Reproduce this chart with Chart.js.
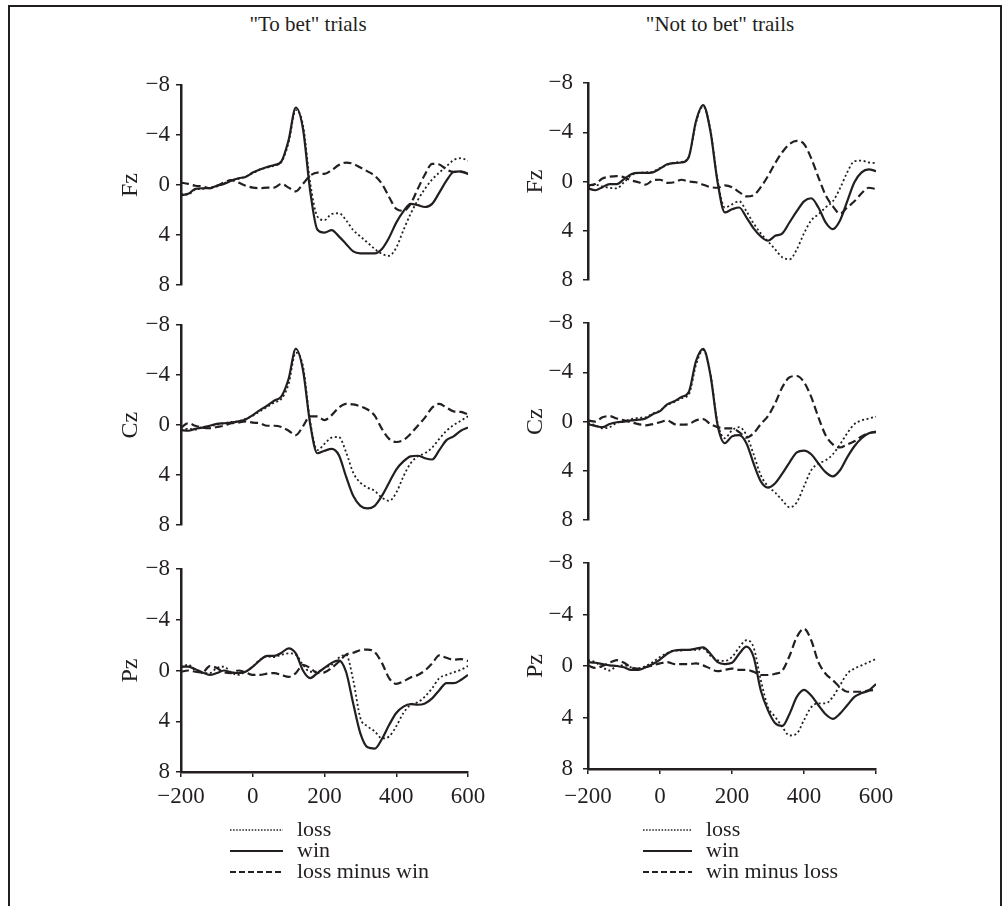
<!DOCTYPE html>
<html><head><meta charset="utf-8">
<script src="https://cdn.jsdelivr.net/npm/chart.js@4.4.1/dist/chart.umd.min.js"></script>
<style>
html,body{margin:0;padding:0;background:#fff;}
#page{position:relative;width:1003px;height:906px;overflow:hidden;background:#fff;font-family:'Liberation Serif','Times New Roman',serif;color:#231f20;}
#frame{position:absolute;left:8px;top:5px;width:990px;height:960px;border:2px solid #231f20;border-bottom:none;}
.title{position:absolute;top:12px;font-size:21px;line-height:24px;white-space:nowrap;transform:translateX(-50%);}
canvas{position:absolute;}
.leg{position:absolute;font-size:22px;line-height:22px;height:22px;white-space:nowrap;}
.leg svg{position:absolute;top:0;}
.leg span{position:absolute;top:0;}
</style></head>
<body>
<div id="page">
  <div id="frame"></div>
  <div class="title" style="left:308px">"To bet" trials</div>
  <div class="title" style="left:720px">"Not to bet" trails</div>
  <canvas id="fzL" width="400" height="245" style="left:100px;top:60px"></canvas>
  <canvas id="czL" width="400" height="245" style="left:100px;top:300px"></canvas>
  <canvas id="pzL" width="400" height="273" style="left:100px;top:544px"></canvas>
  <canvas id="fzR" width="401" height="246" style="left:507px;top:58px"></canvas>
  <canvas id="czR" width="401" height="246" style="left:507px;top:298px"></canvas>
  <canvas id="pzR" width="401" height="276" style="left:507px;top:538px"></canvas>
  <div id="legL"></div>
  <div id="legR"></div>
</div>
<script>
// ---------- data ----------
const timesMs = [-200,-180,-160,-140,-120,-100,-80,-60,-40,-20,0,20,40,60,80,100,120,140,160,180,200,220,240,260,280,300,320,340,360,380,400,420,440,460,480,500,520,540,560,580,600];
const xTickValues = [-200,0,200,400,600];
const yTickValues = [-8,-4,0,4,8];
const columnTitles = ['"To bet" trials', '"Not to bet" trails'];
const siteLabels = ['Fz','Cz','Pz'];
const legendLeft = ['loss','win','loss minus win'];
const legendRight = ['loss','win','win minus loss'];

// "To bet" trials
const fzBetLoss = [0.7,0.75,0.35,0.3,0.2,0.1,-0.15,-0.4,-0.5,-0.7,-0.95,-1.25,-1.4,-1.55,-1.85,-3.4,-6.0,-4.8,-0.2,2.5,2.8,2.3,2.25,2.8,3.6,4.1,4.6,5.1,5.5,5.65,5.0,3.6,2.3,1.2,0.3,-0.45,-1.0,-1.5,-2.0,-2.15,-1.95];
const fzBetWin  = [0.8,0.7,0.3,0.25,0.25,0.05,-0.1,-0.35,-0.55,-0.65,-1.0,-1.25,-1.45,-1.6,-1.9,-3.6,-6.2,-4.5,0.45,3.55,3.8,3.6,4.1,4.7,5.3,5.45,5.45,5.45,5.1,4.2,3.0,2.1,1.5,1.6,1.75,1.5,0.6,-0.35,-1.05,-1.1,-0.9];
const fzBetDiff = [-0.2,-0.1,0.05,0.1,0.25,0.05,-0.2,-0.4,-0.2,0.05,0.2,0.25,0.2,0.2,-0.1,0.2,0.5,-0.1,-0.75,-1.0,-0.9,-1.2,-1.6,-1.8,-1.7,-1.4,-1.1,-0.75,-0.1,0.95,1.9,2.05,1.5,0.3,-0.85,-1.7,-1.65,-1.25,-1.05,-1.05,-0.9];

const czBetLoss = [0.35,0.3,0.35,0.15,0.1,-0.05,-0.15,-0.25,-0.3,-0.5,-0.75,-1.1,-1.45,-1.8,-2.1,-3.3,-5.8,-4.7,-0.3,2.0,1.5,1.0,0.95,2.15,3.8,4.6,5.0,5.25,5.8,6.05,5.4,4.1,3.05,2.5,2.25,1.8,1.1,0.45,0.0,-0.35,-0.7];
const czBetWin  = [0.4,0.45,0.3,0.2,0.05,-0.1,-0.15,-0.2,-0.3,-0.45,-0.8,-1.2,-1.55,-1.95,-2.3,-3.7,-6.1,-4.4,-0.1,2.25,2.05,1.9,2.4,4.1,5.65,6.45,6.65,6.45,5.65,4.6,3.55,2.9,2.5,2.45,2.65,2.75,2.0,1.2,0.9,0.45,0.2];
const czBetDiff = [0.2,-0.15,0.05,0.2,0.25,0.15,0.05,-0.15,-0.2,-0.3,-0.2,-0.15,0.05,0.05,0.15,0.45,0.8,0.1,-0.7,-0.7,-0.4,-0.8,-1.4,-1.7,-1.65,-1.5,-1.25,-0.75,0.3,1.1,1.35,1.2,0.7,0.05,-0.6,-1.4,-1.7,-1.4,-1.1,-1.05,-0.85];

const pzBetLoss = [-0.2,-0.45,0.0,0.2,0.2,-0.2,-0.3,0.15,0.35,0.1,-0.3,-0.85,-1.1,-1.05,-1.25,-1.35,-1.25,-0.45,0.1,0.1,-0.2,-0.45,-1.0,-1.25,0.75,3.75,4.4,4.8,5.35,5.2,4.4,3.35,2.7,2.5,2.05,1.4,0.6,0.35,0.15,-0.05,-0.35];
const pzBetWin  = [-0.3,-0.3,-0.1,0.15,0.35,0.2,0.0,0.15,0.2,0.1,-0.3,-0.8,-1.15,-1.15,-1.4,-1.75,-1.35,0.0,0.6,0.2,-0.2,-0.6,-0.8,0.1,2.6,4.95,6.05,6.15,5.4,4.3,3.35,2.85,2.65,2.7,2.6,2.2,1.55,1.0,1.0,0.75,0.35];
const pzBetDiff = [0.1,0.0,0.1,0.15,-0.35,-0.2,0.15,0.2,0.0,0.15,0.35,0.35,0.25,0.2,0.35,0.5,0.2,-0.45,-0.2,0.2,0.15,-0.2,-0.7,-1.25,-1.4,-1.6,-1.65,-1.45,-0.6,0.6,1.05,0.85,0.55,0.35,0.0,-0.55,-1.2,-1.0,-0.85,-0.9,-0.75];

// "Not to bet" trials
const fzNoLoss = [0.45,0.25,0.4,0.5,0.55,0.05,-0.5,-0.7,-0.75,-0.8,-1.1,-1.35,-1.55,-1.6,-2.0,-4.8,-6.1,-4.2,-0.1,2.1,1.85,1.6,2.4,3.4,4.2,4.85,5.5,6.15,6.3,5.5,4.2,3.15,2.65,2.1,1.6,0.55,-0.75,-1.65,-1.7,-1.55,-1.5];
const fzNoWin  = [0.55,0.7,0.45,0.2,0.2,-0.2,-0.6,-0.7,-0.7,-0.75,-1.05,-1.4,-1.5,-1.55,-2.0,-4.9,-6.2,-4.1,0.05,2.5,2.25,2.1,2.9,3.8,4.45,4.8,4.4,4.2,3.3,2.4,1.6,1.35,2.1,3.3,3.85,3.15,1.6,0.05,-0.75,-1.0,-0.85];
const fzNoDiff = [0.3,0.2,-0.25,-0.4,-0.45,-0.35,-0.1,0.05,0.25,-0.1,-0.15,0.1,0.05,-0.15,0.0,0.05,0.25,0.45,0.5,0.3,0.45,0.85,1.2,1.1,0.45,-0.45,-1.5,-2.4,-3.05,-3.3,-3.05,-1.9,-0.35,1.1,2.0,2.6,2.1,1.6,0.95,0.5,0.6];

const czNoLoss = [0.1,0.3,0.55,0.45,0.1,-0.05,-0.2,-0.3,-0.35,-0.65,-0.9,-1.35,-1.6,-1.9,-2.2,-4.6,-5.8,-3.9,0.1,1.35,0.7,0.45,1.1,2.65,4.35,5.25,5.75,6.4,6.95,6.55,5.25,3.95,3.4,3.15,2.65,1.85,0.95,0.2,-0.1,-0.25,-0.4];
const czNoWin  = [0.2,0.35,0.45,0.2,0.05,0.0,-0.1,-0.15,-0.25,-0.6,-0.85,-1.4,-1.65,-2.0,-2.4,-4.9,-5.9,-3.8,0.3,1.75,1.2,1.1,1.75,3.4,4.85,5.35,5.0,4.2,3.3,2.5,2.35,2.65,3.4,4.1,4.45,3.95,2.9,2.0,1.35,0.95,0.8];
const czNoDiff = [-0.1,0.0,-0.35,-0.45,-0.25,-0.1,0.05,0.2,0.3,0.2,0.05,-0.1,0.2,0.25,0.2,-0.1,-0.2,0.2,0.45,0.55,0.55,0.85,1.3,0.95,0.2,-0.45,-1.5,-2.8,-3.6,-3.7,-3.2,-2.0,-0.35,1.1,1.85,2.1,1.85,1.6,1.2,0.95,0.85];

const pzNoLoss = [-0.45,-0.3,0.1,0.35,0.0,-0.05,0.1,0.2,0.0,-0.3,-0.7,-1.0,-1.2,-1.2,-1.25,-1.25,-1.35,-0.8,-0.45,-0.4,-0.7,-1.45,-2.0,-1.45,1.1,3.2,3.95,4.75,5.4,5.25,4.2,3.2,2.9,2.9,2.4,1.5,0.6,0.2,-0.05,-0.3,-0.55];
const pzNoWin  = [-0.3,-0.25,-0.15,-0.05,0.0,0.1,0.3,0.3,0.1,-0.15,-0.5,-0.95,-1.2,-1.25,-1.25,-1.35,-1.45,-0.95,-0.3,-0.15,-0.25,-0.95,-1.5,-0.7,1.9,3.45,4.45,4.65,3.7,2.4,1.85,2.3,3.05,3.75,4.1,3.7,3.05,2.4,2.1,1.9,1.4];
const pzNoDiff = [-0.05,0.15,0.0,-0.25,-0.45,-0.25,0.1,0.2,0.1,-0.05,-0.2,-0.3,-0.15,-0.15,-0.15,-0.2,-0.05,0.2,0.4,0.3,0.2,0.3,0.3,0.45,0.7,0.7,0.6,0.35,-0.8,-2.25,-2.9,-2.0,-0.3,0.6,1.1,1.65,2.0,2.0,2.0,1.9,1.85];

// ---------- drawing ----------
const INK = '#231f20';
const FONT = "'Liberation Serif', 'Times New Roman', serif";
const fmt = v => (v < 0 ? '\u2212' + Math.abs(v) : String(v));
const pts = arr => timesMs.map((t, i) => ({x: t, y: arr[i]}));

function panel(id, label, loss, win, diff, showX, opt) {
  new Chart(document.getElementById(id), {
    type: 'line',
    data: {datasets: [
      {label: 'loss', data: pts(loss), borderColor: INK, borderWidth: 1.8, borderDash: [2, 2.6]},
      {label: 'win', data: pts(win), borderColor: INK, borderWidth: 2.2},
      {label: 'diff', data: pts(diff), borderColor: INK, borderWidth: 2.2, borderDash: [8, 4]}
    ]},
    options: {
      responsive: false, animation: false, devicePixelRatio: 1,
      layout: {padding: {left: 0, right: 32, top: 25, bottom: showX ? 0 : 15}},
      elements: {point: {radius: 0}, line: {cubicInterpolationMode: 'monotone', fill: false}},
      plugins: {legend: {display: false}, tooltip: {enabled: false}},
      scales: {
        x: {
          type: 'linear', min: -200, max: 600, display: showX,
          afterBuildTicks: s => { s.ticks = xTickValues.map(v => ({value: v})); },
          afterFit: s => { s.height = showX ? 45 : 0; },
          grid: {drawOnChartArea: false, drawTicks: true, tickLength: 5, color: INK, lineWidth: 1.5},
          border: {display: true, color: INK, width: 2.5},
          ticks: {color: INK, font: {family: FONT, size: 23}, padding: opt.xPad, maxRotation: 0, autoSkip: false, callback: v => fmt(v)}
        },
        y: {
          min: -8, max: 8, reverse: true,
          afterBuildTicks: s => { s.ticks = yTickValues.map(v => ({value: v})); },
          afterFit: s => { s.width = 81; },
          grid: {drawOnChartArea: false, drawTicks: true, tickLength: 5, color: INK, lineWidth: 1.5},
          border: {display: true, color: INK, width: 2.5},
          ticks: {color: INK, font: {family: FONT, size: 23}, padding: opt.yPad, callback: v => fmt(v)},
          title: {display: true, text: label, color: INK, font: {family: FONT, size: 24}, padding: {top: opt.tPad, bottom: 0}}
        }
      }
    }
  });
}

const L = {xPad: 6, yPad: 6, tPad: 16};
const R = {xPad: 9, yPad: 10, tPad: 14};
panel('fzL', siteLabels[0], fzBetLoss, fzBetWin, fzBetDiff, false, L);
panel('czL', siteLabels[1], czBetLoss, czBetWin, czBetDiff, false, L);
panel('pzL', siteLabels[2], pzBetLoss, pzBetWin, pzBetDiff, true, L);
panel('fzR', siteLabels[0], fzNoLoss, fzNoWin, fzNoDiff, false, R);
panel('czR', siteLabels[1], czNoLoss, czNoWin, czNoDiff, false, R);
panel('pzR', siteLabels[2], pzNoLoss, pzNoWin, pzNoDiff, true, R);

// ---------- legends ----------
const dashes = [[1.5, 1.6], [], [6, 3]];
const widths = [1.6, 2.2, 2.2];
function legend(hostId, names, x0, sampleW, textX) {
  const host = document.getElementById(hostId);
  const rowsY = [818, 839, 860];
  names.forEach((name, i) => {
    const row = document.createElement('div');
    row.className = 'leg';
    row.style.left = x0 + 'px';
    row.style.top = rowsY[i] + 'px';
    const d = dashes[i].length ? ` stroke-dasharray="${dashes[i].join(' ')}"` : '';
    row.innerHTML = `<svg width="${sampleW}" height="22"><line x1="0" y1="12" x2="${sampleW}" y2="12" stroke="${INK}" stroke-width="${widths[i]}"${d}/></svg>` +
      `<span style="left:${textX - x0}px">${name}</span>`;
    host.appendChild(row);
  });
}
legend('legL', legendLeft, 230, 53, 297);
legend('legR', legendRight, 643, 49, 706);
</script>
</body></html>
